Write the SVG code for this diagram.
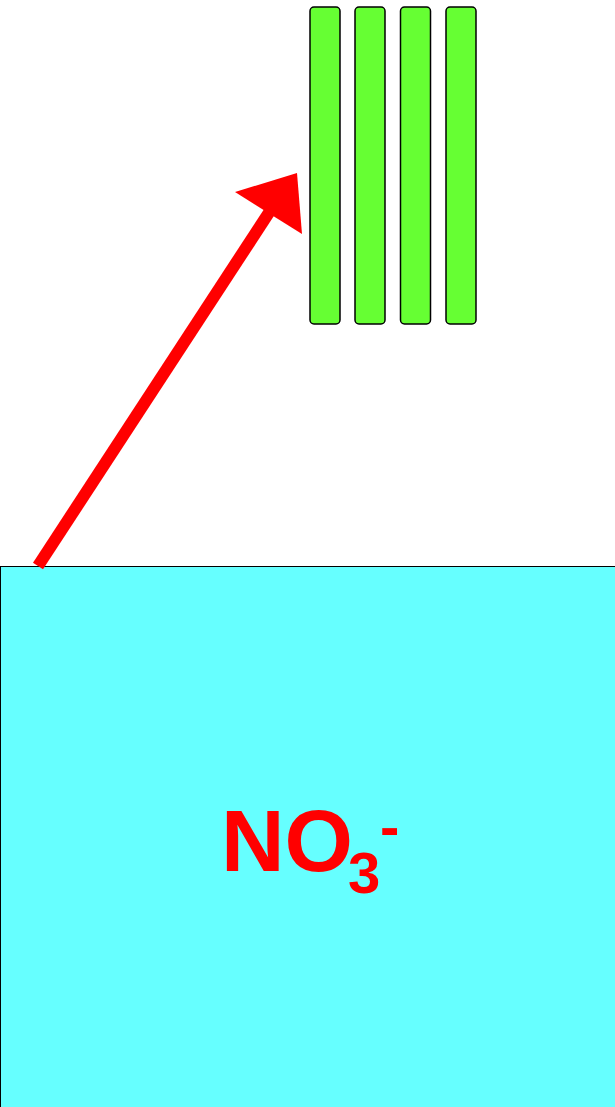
<svg xmlns="http://www.w3.org/2000/svg" width="615" height="1107" viewBox="0 0 615 1107">
<style>
.bar{fill:#66ff33;stroke:#000;stroke-width:1.5}
.lbl{font-family:"Liberation Sans",Arial,sans-serif;font-weight:bold;fill:#ff0000}
</style>
<rect width="615" height="1107" fill="#fff"/>
<g id="solution">
<rect x="0.5" y="566.5" width="616" height="542" fill="#66ffff" stroke="#000" stroke-width="1"/>
<text class="lbl" x="221" y="871" font-size="88">NO<tspan x="348" y="893" font-size="58">3</tspan><tspan x="380" y="847" font-size="58">-</tspan></text>
</g>
<g id="plates">
<rect class="bar" x="310" y="7" width="30" height="317" rx="4"/>
<rect class="bar" x="355" y="7" width="30" height="317" rx="4"/>
<rect class="bar" x="400.5" y="7" width="30" height="317" rx="4"/>
<rect class="bar" x="446" y="7" width="30" height="317" rx="4"/>
</g>
<g id="connectors">
<line x1="38" y1="566" x2="270" y2="211" stroke="#ff0000" stroke-width="12"/>
<polygon points="235,192 297,173 302,234" fill="#ff0000"/>
</g>
</svg>
